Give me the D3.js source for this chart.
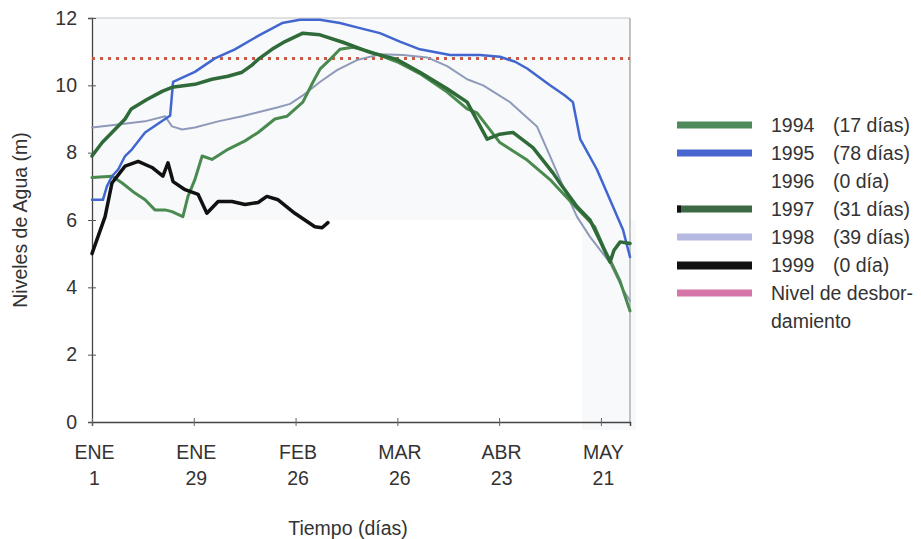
<!DOCTYPE html>
<html>
<head>
<meta charset="utf-8">
<script src="https://cdn.jsdelivr.net/npm/d3@7"></script>
<style>
  body { margin: 0; background: #fff; }
  text { font-family: "Liberation Sans", Arial, sans-serif; fill: #333; }
</style>
</head>
<body>
<div id="chart-area"></div>
<script>
// day of year (1 = Jan 1) and water level (m)
var s1994 = [[1,7.26],[6.5,7.3],[9.3,7.1],[12.8,6.8],[15.6,6.6],[18.3,6.3],[21.1,6.3],[23,6.25],[26,6.1],[27.4,6.7],[29.3,7.2],[31.3,7.9],[34,7.8],[38.4,8.1],[43.1,8.35],[46.7,8.6],[51.3,9.0],[54.6,9.08],[59,9.5],[61.8,10.1],[63.7,10.48],[66.5,10.77],[69.2,11.07],[72.8,11.13],[77.5,11.0],[84.9,10.7],[91.2,10.35],[98.7,9.8],[104.2,9.3],[106.9,9.18],[113.2,8.3],[120.7,7.78],[127,7.2],[128.9,6.98],[134.4,6.35],[139.3,5.8],[142.1,5.1],[144,4.7],[146.2,4.2],[149,3.3]];
var s1995 = [[1,6.6],[4,6.6],[5.1,7.0],[6.5,7.3],[8.2,7.5],[10.1,7.9],[12,8.1],[15.6,8.6],[21.1,9.0],[22.5,9.1],[23.3,10.1],[29.3,10.4],[34.8,10.8],[40.3,11.07],[47.2,11.5],[53.3,11.85],[58.2,11.95],[63.7,11.95],[69.2,11.85],[74.7,11.7],[80.2,11.55],[85.7,11.3],[91.2,11.07],[99.5,10.9],[107.7,10.9],[113.2,10.85],[117.4,10.7],[120.7,10.5],[127,10.0],[131.1,9.7],[133.3,9.5],[135.3,8.4],[139.9,7.5],[143.5,6.6],[147.1,5.7],[149,4.9]];
var s1997 = [[1,7.9],[3.8,8.3],[6.5,8.6],[10.1,9.0],[11.8,9.3],[16.1,9.58],[20.3,9.82],[23,9.94],[29.3,10.03],[34,10.18],[38.4,10.27],[42.3,10.39],[45,10.6],[46.7,10.77],[50.5,11.07],[54.1,11.3],[59,11.55],[63.7,11.5],[70,11.28],[77.5,10.98],[84.9,10.77],[91.2,10.39],[98.7,9.9],[104.2,9.5],[109.7,8.4],[113.2,8.55],[116.8,8.6],[122.3,8.15],[127.8,7.4],[129.7,7.1],[134.4,6.4],[138,6.0],[140.7,5.4],[143.5,4.75],[144.6,5.1],[146.3,5.35],[149,5.3]];
var s1998 = [[1,8.75],[8.2,8.84],[15.6,8.93],[21.1,9.08],[23,8.78],[25.8,8.69],[29.3,8.75],[35.7,8.93],[42.3,9.08],[47.8,9.23],[52.2,9.35],[55.5,9.45],[59,9.7],[63.7,10.1],[68.4,10.45],[73.9,10.75],[80.2,10.92],[86.6,10.9],[93.2,10.83],[98.7,10.57],[104.2,10.18],[108.6,10.0],[116,9.5],[123.4,8.78],[127,7.9],[130.6,7.0],[134.4,6.1],[138,5.5],[143.5,4.73],[147.1,3.93],[149,3.6]];
var s1999 = [[1,5.0],[4.6,6.1],[6.5,7.1],[10.1,7.6],[13.7,7.74],[17.5,7.56],[20.5,7.3],[21.9,7.7],[23.3,7.14],[26.6,6.9],[30.2,6.76],[32.6,6.2],[35.7,6.55],[39.5,6.55],[43.1,6.46],[46.7,6.52],[49.1,6.7],[52.2,6.6],[56.8,6.2],[62.3,5.8],[64.3,5.77],[65.9,5.92]];
var overflowLevel = 10.8;

var tickDays = [1, 29, 57, 85, 113, 141];
var tickMonths = ["ENE", "ENE", "FEB", "MAR", "ABR", "MAY"];
var tickDates = ["1", "29", "26", "26", "23", "21"];
var yTicks = [0, 2, 4, 6, 8, 10, 12];

var legendYears = ["1994", "1995", "1996", "1997", "1998", "1999"];
var legendDays = ["(17 días)", "(78 días)", "(0 día)", "(31 días)", "(39 días)", "(0 día)"];

var width = 921, height = 539;
var fs = "19.5px";
var svg = d3.select("#chart-area").append("svg").attr("width", width).attr("height", height);

var x = d3.scaleLinear().domain([1, 149]).range([92, 630]);
var y = d3.scaleLinear().domain([0, 12]).range([422, 18]);

// faint scan tint
svg.append("rect").attr("x", x(1)).attr("y", y(12)).attr("width", x(149) - x(1)).attr("height", y(6) - y(12)).attr("fill", "#f8f9fb");
svg.append("rect").attr("x", 582).attr("y", y(6)).attr("width", 54).attr("height", y(0) - y(6) + 8).attr("fill", "#f8f9fb");

// frame
svg.append("line").attr("x1", x(1)).attr("x2", x(149)).attr("y1", y(12)).attr("y2", y(12)).attr("stroke", "#c4c4c4").attr("stroke-width", 1);
svg.append("line").attr("x1", x(149)).attr("x2", x(149)).attr("y1", y(12)).attr("y2", y(0)).attr("stroke", "#9a9a9a").attr("stroke-width", 1.2);

// axes
var leftAxis = d3.axisLeft(y).tickValues(yTicks).tickSize(4).tickPadding(11).tickFormat(d3.format("d"));
var yg = svg.append("g").attr("transform", "translate(" + x(1) + ",0)").call(leftAxis);
yg.selectAll(".tick line").attr("x1", -4).attr("x2", 4).attr("stroke", "#555");
yg.select(".domain").attr("stroke", "#444").attr("stroke-width", 1.3);
yg.selectAll("text").attr("font-size", fs).style("fill", "#333").style("font-family", "Liberation Sans, Arial, sans-serif");

var bottomAxis = d3.axisBottom(x).tickValues(tickDays).tickSize(4).tickFormat("");
var xg = svg.append("g").attr("transform", "translate(0," + y(0) + ")").call(bottomAxis);
xg.selectAll(".tick line").attr("y1", -4).attr("y2", 4).attr("stroke", "#666");
xg.select(".domain").attr("stroke", "#444").attr("stroke-width", 1.5);

var xl = xg.selectAll(".tick").append("text").attr("text-anchor", "middle").attr("font-size", fs).style("fill", "#333");
xl.append("tspan").attr("x", 2).attr("y", 37).text((d, i) => tickMonths[i]);
xl.append("tspan").attr("x", 2).attr("y", 63).text((d, i) => tickDates[i]);

// axis titles
svg.append("text").attr("x", -220).attr("y", 27).attr("transform", "rotate(-90)").attr("text-anchor", "middle").attr("font-size", fs).text("Niveles de Agua (m)");
svg.append("text").attr("x", 348).attr("y", 535).attr("text-anchor", "middle").attr("font-size", fs).text("Tiempo (días)");

// overflow level
svg.append("line").attr("x1", x(1)).attr("x2", x(149)).attr("y1", y(overflowLevel)).attr("y2", y(overflowLevel))
  .attr("stroke", "#c95a45").attr("stroke-width", 3).attr("stroke-dasharray", "3,5");

var line = d3.line().x((d) => x(d[0])).y((d) => y(d[1]));

var series = [
  {data: s1998, color: "#8e9ab8", w: 2},
  {data: s1994, color: "#4a8a4f", w: 3},
  {data: s1995, color: "#4166cf", w: 2.5},
  {data: s1997, color: "#2f6a39", w: 3.5},
  {data: s1999, color: "#111", w: 3.5}
];
svg.selectAll(".serie").data(series).enter().append("path").attr("class", "serie")
  .attr("d", (d) => line(d.data)).attr("fill", "none")
  .attr("stroke", (d) => d.color).attr("stroke-width", (d) => d.w)
  .attr("stroke-linejoin", "round").attr("stroke-linecap", "round");

// legend
var legColors = ["#4f8a5a", "#4a66d0", null, "#3d6a45", "#b6b9e2", "#111", "#d675a8"];
var lg = svg.append("g");
var rowY = (i) => 125 + i * 28;
legColors.forEach((c, i) => {
  if (c) lg.append("rect").attr("x", 677).attr("y", rowY(i) - 3.5).attr("width", 75).attr("height", i == 5 ? 8 : 7).attr("fill", c);
});
lg.append("rect").attr("x", 677).attr("y", rowY(3) - 3.5).attr("width", 4).attr("height", 7).attr("fill", "#111");
legendYears.forEach((t, i) => {
  lg.append("text").attr("x", 771).attr("y", rowY(i) + 7).attr("font-size", fs).text(t);
  lg.append("text").attr("x", 833).attr("y", rowY(i) + 7).attr("font-size", fs).text(legendDays[i]);
});
lg.append("text").attr("x", 771).attr("y", rowY(6) + 7).attr("font-size", fs).text("Nivel de desbor-");
lg.append("text").attr("x", 771).attr("y", rowY(7) + 7).attr("font-size", fs).text("damiento");
</script>
</body>
</html>
